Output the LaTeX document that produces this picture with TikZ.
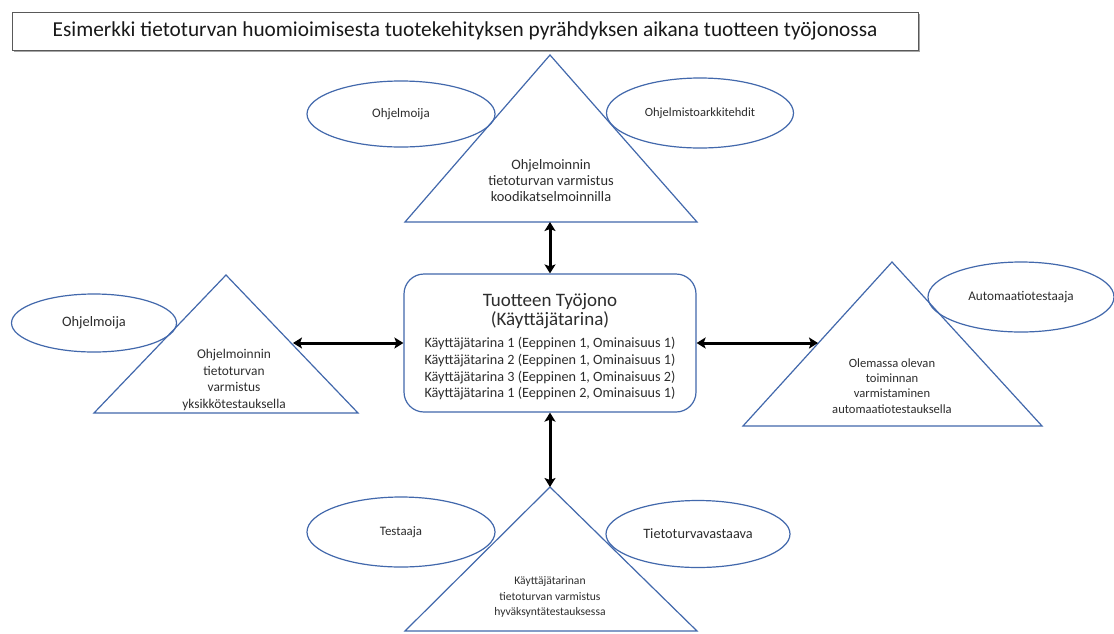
\documentclass[tikz,border=0pt]{standalone}
\usepackage{fontspec}
\setmainfont{Carlito}
\usetikzlibrary{shapes.geometric,arrows.meta}
\definecolor{shapeblue}{RGB}{66,104,172}
\definecolor{txtgray}{RGB}{45,45,45}
\tikzset{
  tri/.style={draw=shapeblue,line width=1.2pt,line join=miter},
  role/.style={ellipse,draw=shapeblue,line width=1.2pt,inner sep=0pt,text=txtgray},
  tritext/.style={align=center,text=txtgray,inner sep=0pt},
  link/.style={line width=3pt,{Stealth[length=9pt,width=11pt,inset=2pt]}-{Stealth[length=9pt,width=11pt,inset=2pt]}}
}
\newcommand{\bigline}[1]{{\fontsize{19}{20}\selectfont #1}}
\begin{document}
\begin{tikzpicture}[x=1pt,y=-1pt]
\useasboundingbox (0,0) rectangle (1114,633);
\fill[white] (0,0) rectangle (1114,633);

% title bar with a soft shadow along its lower edge
\fill[black!35] (14,14) rectangle (920,52);
\node[draw=black!65,line width=0.8pt,fill=white,minimum width=906pt,minimum height=38pt,
      inner sep=0pt,text=black!90,font=\fontsize{21.3}{24}\selectfont] (title) at (465,31)
  {Esimerkki tietoturvan huomioimisesta tuotekehityksen pyrähdyksen aikana tuotteen työjonossa};

% central backlog box and its contents
\node[draw=shapeblue,line width=1.2pt,rounded corners=20pt,minimum width=292pt,minimum height=138pt,
      inner sep=0pt] (backlog) at (550,343) {};
\node[align=center,text=txtgray,inner sep=0pt,font=\fontsize{14.2}{16.7}\selectfont] (backlogtext) at (550,347)
  {\bigline{Tuotteen Työjono}\\
   \bigline{(Käyttäjätarina)}\\[6pt]
   Käyttäjätarina 1 (Eeppinen 1, Ominaisuus 1)\\
   Käyttäjätarina 2 (Eeppinen 1, Ominaisuus 1)\\
   Käyttäjätarina 3 (Eeppinen 1, Ominaisuus 2)\\
   Käyttäjätarina 1 (Eeppinen 2, Ominaisuus 1)};

% top: code review
\draw[tri] (550,55) -- (697,222) -- (405,222) -- cycle;
\coordinate (topbase) at (550,222);
\node[tritext,font=\fontsize{14.4}{16}\selectfont] (toptext) at (551,181)
  {Ohjelmoinnin\\tietoturvan varmistus\\koodikatselmoinnilla};
\node[role,minimum width=188pt,minimum height=66pt,font=\fontsize{13}{15}\selectfont] (coder1) at (401,114) {Ohjelmoija};
\node[role,minimum width=187pt,minimum height=70pt,font=\fontsize{12.5}{15}\selectfont] (architects) at (700,113) {Ohjelmistoarkkitehdit};

% left: unit testing
\draw[tri] (226,275) -- (358,413) -- (94,413) -- cycle;
\coordinate (leftedge) at (293,343);
\node[tritext,font=\fontsize{13.4}{16.5}\selectfont] (lefttext) at (234,380)
  {Ohjelmoinnin\\tietoturvan\\varmistus\\yksikkötestauksella};
\node[role,minimum width=165pt,minimum height=58pt,font=\fontsize{14.4}{16}\selectfont] (coder2) at (94,323) {Ohjelmoija};

% right: automated regression testing
\draw[tri] (892,262) -- (1042,426) -- (743,426) -- cycle;
\coordinate (rightedge) at (818,343);
\node[tritext,font=\fontsize{12.6}{15.2}\selectfont] (righttext) at (892,386)
  {Olemassa olevan\\toiminnan\\varmistaminen\\automaatiotestauksella};
\node[role,minimum width=186pt,minimum height=70pt,font=\fontsize{13.2}{15}\selectfont] (autotester) at (1021,297) {Automaatiotestaaja};

% bottom: acceptance testing
\draw[tri] (550,487) -- (697,631) -- (405,631) -- cycle;
\coordinate (bottomapex) at (550,487);
\node[tritext,font=\fontsize{11.6}{15.5}\selectfont] (bottomtext) at (550,597)
  {Käyttäjätarinan\\tietoturvan varmistus\\hyväksyntätestauksessa};
\node[role,minimum width=188pt,minimum height=70pt,font=\fontsize{12.9}{15}\selectfont] (tester) at (401,532) {Testaaja};
\node[role,minimum width=184pt,minimum height=67pt,font=\fontsize{14.3}{16}\selectfont] (secofficer) at (698,534) {Tietoturvavastaava};

% connectors
\draw[link] (topbase) -- (backlog.north);
\draw[link] (backlog.south) -- (bottomapex);
\draw[link] (leftedge) -- (backlog.west);
\draw[link] (backlog.east) -- (rightedge);
\end{tikzpicture}
\end{document}
